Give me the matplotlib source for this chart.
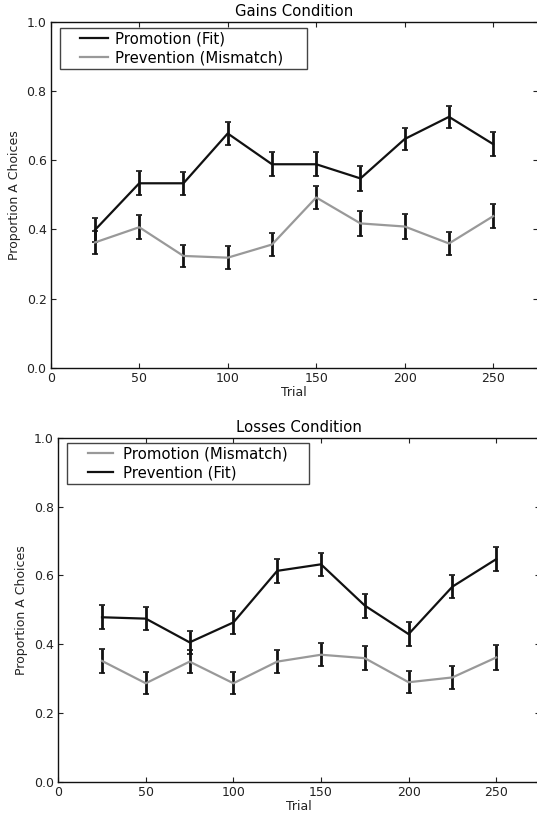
import numpy as np
import matplotlib
matplotlib.use("Agg")
import matplotlib.pyplot as plt
from matplotlib.lines import Line2D
from matplotlib.legend_handler import HandlerLine2D

# trial blocks
trials = [25, 50, 75, 100, 125, 150, 175, 200, 225, 250]

# Gains condition
gains_fit = [0.398, 0.533, 0.533, 0.677, 0.588, 0.588, 0.547, 0.661, 0.725, 0.646]
gains_fit_err = [0.034, 0.035, 0.034, 0.033, 0.034, 0.034, 0.036, 0.033, 0.032, 0.034]
gains_mis = [0.362, 0.406, 0.323, 0.318, 0.356, 0.492, 0.417, 0.408, 0.359, 0.438]
gains_mis_err = [0.033, 0.035, 0.033, 0.033, 0.034, 0.034, 0.035, 0.035, 0.034, 0.035]

# Losses condition
losses_mis = [0.351, 0.286, 0.349, 0.286, 0.349, 0.369, 0.359, 0.289, 0.303, 0.361]
losses_mis_err = [0.034, 0.032, 0.034, 0.032, 0.034, 0.034, 0.034, 0.032, 0.033, 0.035]
losses_fit = [0.478, 0.474, 0.405, 0.463, 0.613, 0.632, 0.512, 0.429, 0.567, 0.647]
losses_fit_err = [0.035, 0.034, 0.034, 0.034, 0.034, 0.034, 0.035, 0.034, 0.034, 0.034]

gains_labels = ["Promotion (Fit)", "Prevention (Mismatch)"]
losses_labels = ["Promotion (Mismatch)", "Prevention (Fit)"]

BLACK = "#111111"
GREY = "#999999"


class PaddedLine(HandlerLine2D):
    # old-style legend: short line sitting at the right of a wide handle box
    def __init__(self, line_pts, **kw):
        super().__init__(**kw)
        self.line_pts = line_pts

    def get_xdata(self, legend, xdescent, ydescent, width, height, fontsize):
        x1 = -xdescent + width
        return [x1 - self.line_pts, x1], [x1 - self.line_pts / 2]


fig = plt.figure(figsize=(5.37, 8.16), dpi=100)
ax1 = fig.add_axes([50.7 / 537, (816 - 367.7) / 816, (537.5 - 50.7) / 537, 346.0 / 816])
ax2 = fig.add_axes([58.2 / 537, (816 - 781.6) / 816, (540.0 - 58.2) / 537, 343.8 / 816])


def draw_series(ax, y, err, color):
    eb = ax.errorbar(trials, y, yerr=err, fmt="-", color=color, lw=1.6,
                     ecolor=BLACK, elinewidth=2.0, capsize=2.5, capthick=1.2)
    return eb[0]


h1 = draw_series(ax1, gains_fit, gains_fit_err, BLACK)
h2 = draw_series(ax1, gains_mis, gains_mis_err, GREY)
ax1.set_title("Gains Condition", fontsize=10.7, pad=4)

h3 = draw_series(ax2, losses_mis, losses_mis_err, GREY)
h4 = draw_series(ax2, losses_fit, losses_fit_err, BLACK)
ax2.set_title("Losses Condition", fontsize=10.7, pad=4.5)

# legend boxes: (left px, top px, width px, handlelength, textpad, line pts)
leg_boxes = [(9.3, 6.6, 246.7, 2.99, 0.49, 19.9),
             (8.5, 5.5, 242.6, 2.88, 0.67, 18.0)]

panels = ((ax1, [h1, h2], gains_labels, leg_boxes[0]),
          (ax2, [h3, h4], losses_labels, leg_boxes[1]))

for ax, handles, labels, box in panels:
    ax.set_xlim(0, 275)
    ax.set_ylim(0, 1.0)
    ax.set_xticks([0, 50, 100, 150, 200, 250])
    ax.set_yticks([0.0, 0.2, 0.4, 0.6, 0.8, 1.0])
    ax.set_yticklabels(["0.0", "0.2", "0.4", "0.6", "0.8", "1.0"])
    ax.tick_params(direction="in", top=True, right=True, length=3.5,
                   width=0.8, labelsize=9, pad=3, colors="#222222")
    for sp in ax.spines.values():
        sp.set_linewidth(1.0)
        sp.set_color("#111111")
    ax.set_xlabel("Trial", fontsize=9, labelpad=1, color="#222222")
    ax.set_ylabel("Proportion A Choices", fontsize=9, labelpad=4, color="#222222")

    bb = ax.get_window_extent()
    wpx, hpx = bb.width, bb.height
    x0 = box[0] / wpx
    ytop = 1 - box[1] / hpx
    bw = box[2] / wpx
    leg = ax.legend(handles, labels, loc="upper left",
                    bbox_to_anchor=(x0, 0, bw, ytop), mode="expand",
                    borderaxespad=0, fontsize=10.7, fancybox=False,
                    framealpha=1, handlelength=box[3], handletextpad=box[4],
                    borderpad=0.22, labelspacing=0.25,
                    handler_map={Line2D: PaddedLine(box[5])})
    leg.get_frame().set_edgecolor("#444444")
    leg.get_frame().set_linewidth(1.0)

fig.savefig("out.png", dpi=100)
